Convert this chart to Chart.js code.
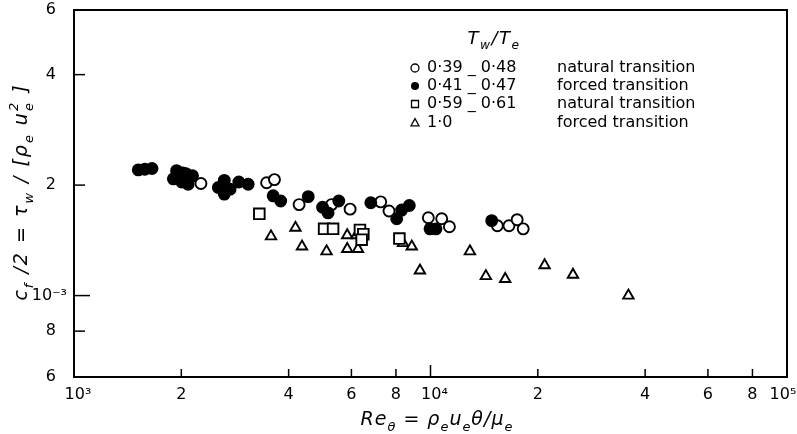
<!DOCTYPE html>
<html>
<head>
<meta charset="utf-8">
<script src="https://cdn.jsdelivr.net/npm/chart.js@4.4.0/dist/chart.umd.min.js"></script>
<style>
  html, body { margin: 0; padding: 0; background: #fff; }
</style>
</head>
<body>
<canvas id="cfChart" width="797" height="434"></canvas>
<script>
// Re_theta and cf/2 (cf/2 in units of 1e-3)
const openRe = [2270, 3470, 3650, 4280, 5280, 5950, 7250, 7650, 9860, 10750, 11300, 15400, 16600, 17500, 18200]
const openCf = [2.02, 2.03, 2.07, 1.77, 1.77, 1.72, 1.80, 1.70, 1.63, 1.62, 1.54, 1.55, 1.55, 1.61, 1.52]

const filledRe = [1515, 1580, 1655, 1940, 1900, 2020, 2060, 2150, 2005, 2090, 2640, 2540, 2740, 2640, 2900, 3080,
    3620, 3800, 4540, 4980, 5160, 5530, 6800, 8040, 8300, 8720, 9970, 10360, 14850]
const filledCf = [2.20, 2.21, 2.22, 2.19, 2.08, 2.16, 2.15, 2.12, 2.04, 2.01, 2.06, 1.97, 1.95, 1.89, 2.04, 2.01,
    1.87, 1.81, 1.86, 1.74, 1.68, 1.81, 1.79, 1.62, 1.71, 1.76, 1.52, 1.52, 1.60]

const squareRe = [3310, 5030, 5330, 6340, 6480, 6410, 8180]
const squareCf = [1.67, 1.52, 1.52, 1.51, 1.47, 1.42, 1.43]

const triRe = [3570, 4180, 4360, 5110, 5840, 5840, 6200, 6260, 8370, 8860, 9340, 12900, 14300, 16200, 20900, 25100, 35900]
const triCf = [1.45, 1.53, 1.36, 1.32, 1.46, 1.34, 1.46, 1.34, 1.39, 1.36, 1.17, 1.32, 1.13, 1.11, 1.21, 1.14, 1.00]

const legendRange = ['0·39 _ 0·48', '0·41 _ 0·47', '0·59 _ 0·61', '1·0']
const legendKind = ['natural transition', 'forced transition', 'natural transition', 'forced transition']

const xTicks = [1e3, 2e3, 4e3, 6e3, 8e3, 1e4, 2e4, 4e4, 6e4, 8e4, 1e5]
const xTickLabels = ['\u200210³', '2', '4', '6', '8', '\u200210⁴', '2', '4', '6', '8', '10⁵\u2002']
const yTicks = [6e-4, 8e-4, 1e-3, 2e-3, 4e-3, 6e-3]
const yTickLabels = ['6\u2002\u2009', '8\u2002\u2009', '10⁻³', '2\u2002\u2009', '4\u2002\u2009', '6\u2002\u2009']

const FONT = '"DejaVu Sans", sans-serif'

const toPoints = (xs, ys) => xs.map((x, i) => ({x: x, y: ys[i] * 1e-3}))

// italic text with sub/superscripts, centred on x
const richText = (ctx, parts, x, y, size, spacing) => {
    const small = size * 0.68
    const sizes = {n: size, sub: small, sup: small, over: small}
    const shift = {n: 0, sub: size * 0.3, sup: -size * 0.45, over: -size * 0.45}
    ctx.letterSpacing = (spacing || 0) + 'px'
    let total = 0
    let prevStart = 0
    const items = parts.map(([t, k]) => {
        ctx.font = `italic ${sizes[k]}px ${FONT}`
        const w = ctx.measureText(t).width
        let start = total
        if (k === 'over') start = prevStart
        else prevStart = total
        total = Math.max(total, start + w)
        return {t, k, start}
    })
    const x0 = x - total / 2
    items.forEach(it => {
        ctx.font = `italic ${sizes[it.k]}px ${FONT}`
        ctx.fillText(it.t, x0 + it.start, y + shift[it.k])
    })
    ctx.letterSpacing = '0px'
}

const drawMarker = (ctx, style, x, y, r) => {
    ctx.beginPath()
    if (style === 'circle' || style === 'dot') {
        ctx.arc(x, y, r, 0, Math.PI * 2)
    } else if (style === 'rect') {
        ctx.rect(x - r, y - r, r * 2, r * 2)
    } else {
        ctx.moveTo(x, y - r * 1.1)
        ctx.lineTo(x + r, y + r * 0.7)
        ctx.lineTo(x - r, y + r * 0.7)
        ctx.closePath()
    }
    if (style === 'dot') { ctx.fill() } else { ctx.stroke() }
}

const extras = {
    id: 'extras',
    afterDraw(chart) {
        const {ctx, chartArea: a, scales: {x, y}} = chart
        ctx.save()
        ctx.strokeStyle = '#000'
        ctx.fillStyle = '#000'
        // top and right frame
        ctx.lineWidth = 2
        ctx.beginPath()
        ctx.moveTo(a.left, a.top)
        ctx.lineTo(a.right, a.top)
        ctx.lineTo(a.right, a.bottom)
        ctx.stroke()
        // inward tick marks
        ctx.lineWidth = 1.5
        xTicks.forEach(v => {
            const px = x.getPixelForValue(v)
            const len = v === 1e4 ? 12 : 8
            ctx.beginPath(); ctx.moveTo(px, a.bottom); ctx.lineTo(px, a.bottom - len); ctx.stroke()
        })
        yTicks.forEach(v => {
            const py = y.getPixelForValue(v)
            const len = v === 1e-3 ? 16 : 11
            ctx.beginPath(); ctx.moveTo(a.left, py); ctx.lineTo(a.left + len, py); ctx.stroke()
        })

        // axis titles
        ctx.textAlign = 'left'
        ctx.textBaseline = 'alphabetic'
        richText(ctx, [['Re', 'n'], ['θ', 'sub'], [' = ρ', 'n'], ['e', 'sub'], ['u', 'n'], ['e', 'sub'], ['θ/μ', 'n'], ['e', 'sub']], 437, 425, 19, 1)
        ctx.save()
        ctx.translate(27, 192)
        ctx.rotate(-Math.PI / 2)
        richText(ctx, [['c', 'n'], ['f', 'sub'], [' /2 = τ', 'n'], ['w', 'sub'], [' / [ρ', 'n'], ['e', 'sub'], [' u', 'n'], ['e', 'sub'], ['2', 'over'], [' ]', 'n']], 0, 0, 19, 2)
        ctx.restore()

        // legend
        richText(ctx, [['T', 'n'], ['w', 'sub'], ['/T', 'n'], ['e', 'sub']], 494, 44, 18, 1.5)
        ctx.font = `16px ${FONT}`
        ctx.textBaseline = 'middle'
        const styles = ['circle', 'dot', 'rect', 'triangle']
        const rows = [68, 86, 104, 123]
        rows.forEach((ry, i) => {
            ctx.lineWidth = 1.3
            drawMarker(ctx, styles[i], 415, ry, styles[i] === 'rect' ? 3.5 : 4)
            ctx.fillText(legendRange[i], 427, ry)
            ctx.fillText(legendKind[i], 557, ry)
        })
        ctx.restore()
    }
}

const markerBase = {showLine: false, borderColor: '#000', borderWidth: 1.9, pointHoverRadius: 5.5}

const cfChart = new Chart(document.querySelector('#cfChart'), {
    type: 'scatter',
    data: {
        datasets: [
            {...markerBase, label: 'forced 0.41-0.47', data: toPoints(filledRe, filledCf), pointStyle: 'circle', pointRadius: 5.5, backgroundColor: '#000'},
            {...markerBase, label: 'natural 0.39-0.48', data: toPoints(openRe, openCf), pointStyle: 'circle', pointRadius: 5.5, backgroundColor: '#fff'},
            {...markerBase, label: 'natural 0.59-0.61', data: toPoints(squareRe, squareCf), pointStyle: 'rect', pointRadius: 7.5, backgroundColor: '#fff'},
            {...markerBase, label: 'forced 1.0', data: toPoints(triRe, triCf), pointStyle: 'triangle', pointRadius: 6, backgroundColor: '#fff'}
        ]
    },
    options: {
        responsive: false,
        animation: false,
        layout: {autoPadding: false, padding: {top: 10, right: 10, left: 0, bottom: 0}},
        plugins: {legend: {display: false}, tooltip: {enabled: false}},
        scales: {
            x: {
                type: 'logarithmic',
                min: 1000,
                max: 100000,
                afterBuildTicks: s => { s.ticks = xTicks.map(v => ({value: v})) },
                afterFit: s => { s.height = 57; s.paddingLeft = 0; s.paddingRight = 0 },
                ticks: {
                    callback: (v, i) => xTickLabels[i],
                    autoSkip: false, maxRotation: 0, padding: 8,
                    color: '#000', font: {family: FONT, size: 16}
                },
                grid: {display: false, drawTicks: false},
                border: {display: true, color: '#000', width: 2}
            },
            y: {
                type: 'logarithmic',
                min: 6e-4,
                max: 6e-3,
                afterBuildTicks: s => { s.ticks = yTicks.map(v => ({value: v})) },
                afterFit: s => { s.width = 74; s.paddingTop = 0; s.paddingBottom = 0 },
                ticks: {
                    callback: (v, i) => yTickLabels[i],
                    autoSkip: false, padding: 7,
                    color: '#000', font: {family: FONT, size: 16}
                },
                grid: {display: false, drawTicks: false},
                border: {display: true, color: '#000', width: 2}
            }
        }
    },
    plugins: [extras]
})
</script>
</body>
</html>
